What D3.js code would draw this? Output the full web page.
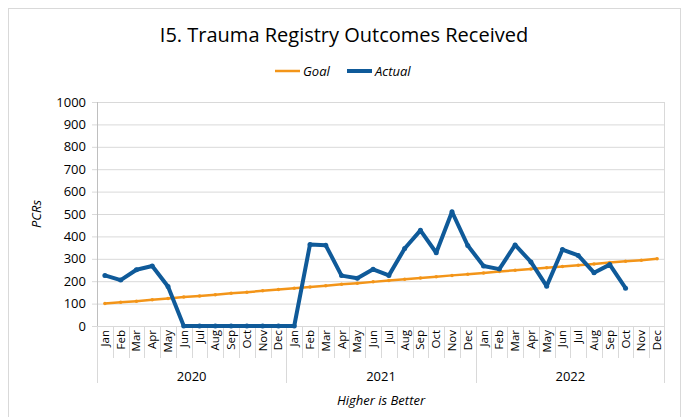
<!DOCTYPE html>
<html>
<head>
<meta charset="utf-8">
<script src="https://d3js.org/d3.v7.min.js"></script>
<style>
    body { margin: 0; background: #fff; }
    svg text { font-family: "Open Sans", "Liberation Sans", sans-serif; fill: #000; }
</style>
</head>
<body>
<div id="chart"></div>
<script>
    var years = ['2020', '2021', '2022'];
    var months = ['Jan', 'Feb', 'Mar', 'Apr', 'May', 'Jun', 'Jul', 'Aug', 'Sep', 'Oct', 'Nov', 'Dec'];
    var yTicks = [0, 100, 200, 300, 400, 500, 600, 700, 800, 900, 1000];

    // one value per month, Jan 2020 .. Dec 2022
    var goal = [100, 106, 111, 117, 123, 129, 134, 140, 146, 151, 157, 163,
                169, 174, 180, 186, 191, 197, 203, 209, 214, 220, 226, 231,
                237, 243, 249, 254, 260, 266, 271, 277, 283, 289, 294, 300];
    var actual = [226, 205, 251, 268, 176, 0, 0, 0, 0, 0, 0, 0,
                  0, 364, 360, 225, 213, 253, 226, 346, 427, 327, 510, 359,
                  268, 254, 362, 286, 178, 341, 315, 238, 274, 169, null, null];

    var width = 686, height = 417;
    var margin = { top: 102, right: 21, bottom: 91, left: 97 };
    var plotW = width - margin.left - margin.right;
    var plotH = height - margin.top - margin.bottom;

    var keys = [];
    years.forEach(function (y) {
        months.forEach(function (m) { keys.push(y + '-' + m); });
    });

    var svg = d3.select('#chart').append('svg')
        .attr('width', width)
        .attr('height', height);

    // chart frame
    svg.append('rect')
        .attr('x', 8.5).attr('y', 8.5)
        .attr('width', 672).attr('height', 430)
        .attr('fill', 'none')
        .attr('stroke', '#d9d9d9');

    svg.append('text')
        .attr('x', 344).attr('y', 42)
        .attr('text-anchor', 'middle')
        .style('font-size', '20px')
        .text('I5. Trauma Registry Outcomes Received');

    var x = d3.scaleBand().domain(keys).range([0, plotW]);
    var y = d3.scaleLinear().domain([0, 1000]).range([plotH, 0]);

    var g = svg.append('g')
        .attr('transform', 'translate(' + margin.left + ',' + margin.top + ')');

    // gridlines + y axis
    var yAxis = d3.axisLeft(y).tickValues(yTicks).tickFormat(d3.format('d'))
        .tickSize(-plotW).tickPadding(11);
    var gy = g.append('g').call(yAxis);
    gy.select('.domain').remove();
    gy.selectAll('.tick line').attr('stroke', '#d9d9d9').attr('x1', -5);
    gy.selectAll('.tick text').style('font-size', '13px');

    g.append('line')
        .attr('x1', 0.5).attr('x2', 0.5).attr('y1', 0).attr('y2', plotH)
        .attr('stroke', '#bfbfbf');
    g.append('line')
        .attr('x1', plotW - 0.5).attr('x2', plotW - 0.5).attr('y1', 0).attr('y2', plotH)
        .attr('stroke', '#d9d9d9');

    // category ticks between months
    var xAxis = g.append('g').attr('transform', 'translate(0,' + plotH + ')');
    xAxis.selectAll('line.mt')
        .data(keys.slice(1))
        .enter().append('line')
        .attr('x1', function (d) { return Math.round(x(d)) + 0.5; })
        .attr('x2', function (d) { return Math.round(x(d)) + 0.5; })
        .attr('y1', 0)
        .attr('y2', function (d) { return d.slice(5) === 'Jan' ? 57 : 32; })
        .attr('stroke', '#d9d9d9');
    xAxis.selectAll('line.edge')
        .data([0, plotW])
        .enter().append('line')
        .attr('x1', function (d) { return d === 0 ? 0.5 : d - 0.5; })
        .attr('x2', function (d) { return d === 0 ? 0.5 : d - 0.5; })
        .attr('y1', 0).attr('y2', 57)
        .attr('stroke', '#d9d9d9');

    xAxis.selectAll('text.month')
        .data(keys)
        .enter().append('text')
        .attr('transform', function (d) {
            return 'translate(' + (x(d) + x.bandwidth() / 2 + 4) + ',4) rotate(-90)';
        })
        .attr('text-anchor', 'end')
        .style('font-size', '11.5px')
        .text(function (d) { return d.slice(5); });

    xAxis.selectAll('text.year')
        .data(years)
        .enter().append('text')
        .attr('x', function (d) { return x(d + '-Jan') + x.bandwidth() * 6; })
        .attr('y', 55)
        .attr('text-anchor', 'middle')
        .style('font-size', '13px')
        .text(function (d) { return d; });

    svg.append('text')
        .attr('x', margin.left + plotW / 2).attr('y', 405)
        .attr('text-anchor', 'middle')
        .style('font-size', '13px')
        .style('font-style', 'italic')
        .text('Higher is Better');

    svg.append('text')
        .attr('transform', 'translate(41,' + (margin.top + plotH / 2) + ') rotate(-90)')
        .attr('text-anchor', 'middle')
        .style('font-size', '13px')
        .style('font-style', 'italic')
        .text('PCRs');

    // series
    var series = [
        { name: 'Goal', values: goal, color: '#f39519', width: 2.5 },
        { name: 'Actual', values: actual, color: '#0f5a99', width: 4 }
    ];

    var line = d3.line()
        .defined(function (d) { return d != null; })
        .x(function (d, i) { return x(keys[i]) + x.bandwidth() / 2; })
        .y(function (d) { return y(d); });

    series.forEach(function (s) {
        g.append('path')
            .datum(s.values)
            .attr('fill', 'none')
            .attr('stroke', s.color)
            .attr('stroke-width', s.width)
            .attr('stroke-linejoin', 'round')
            .attr('d', line);
        g.selectAll(null)
            .data(s.values.map(function (v, i) { return { v: v, k: keys[i] }; })
                .filter(function (d) { return d.v != null; }))
            .enter().append('circle')
            .attr('cx', function (d) { return x(d.k) + x.bandwidth() / 2; })
            .attr('cy', function (d) { return y(d.v); })
            .attr('r', s.width / 2 + 0.5)
            .attr('fill', s.color);
    });

    // legend
    var legend = svg.append('g');
    var lx = [275, 347];
    series.forEach(function (s, i) {
        legend.append('line')
            .attr('x1', lx[i]).attr('x2', lx[i] + 25)
            .attr('y1', 71).attr('y2', 71)
            .attr('stroke', s.color)
            .attr('stroke-width', s.width);
        legend.append('text')
            .attr('x', lx[i] + 28).attr('y', 75.5)
            .style('font-size', '13px')
            .style('font-style', 'italic')
            .text(s.name);
    });
</script>
</body>
</html>
